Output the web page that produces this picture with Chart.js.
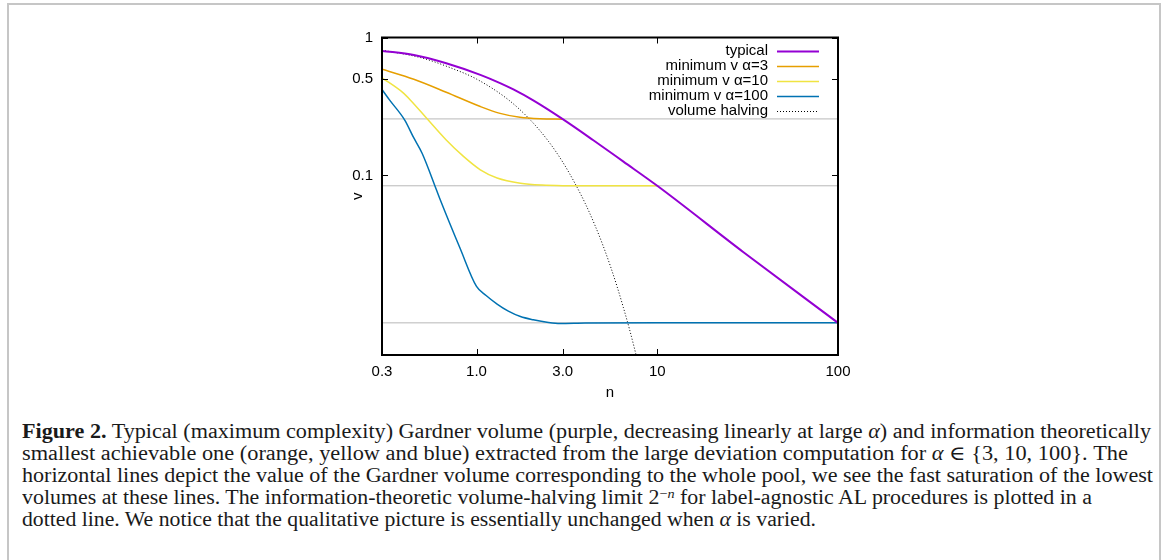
<!DOCTYPE html>
<html>
<head>
<meta charset="utf-8">
<script src="https://cdn.jsdelivr.net/npm/chart.js@4.4.0/dist/chart.umd.min.js"></script>
<style>
  html, body { margin: 0; padding: 0; background: #fff; width: 1170px; height: 560px; overflow: hidden; }
  #frame { position: absolute; left: 7px; top: 3px; width: 1154px; height: 640px; border: 2px solid #c6c6c6; box-sizing: border-box; }
  #plot { position: absolute; left: 0; top: 0; }
  #caption { position: absolute; left: 22px; top: 420px; font-family: "Liberation Serif", "DejaVu Serif", serif; font-size: 20px; line-height: 22px; color: #1a1a1a; }
  #caption div { white-space: nowrap; width: max-content; transform-origin: 0 50%; }
  #caption sup { font-size: 13px; line-height: 0; vertical-align: 0.45em; }
  .m { font-style: italic; }
</style>
</head>
<body>
<div id="frame"></div>
<canvas id="plot" width="1170" height="410"></canvas>
<div id="caption">
  <div><b>Figure 2.</b> Typical (maximum complexity) Gardner volume (purple, decreasing linearly at large <span class="m">α</span>) and information theoretically</div>
  <div>smallest achievable one (orange, yellow and blue) extracted from the large deviation computation for <span class="m">α</span> ∈ {3, 10, 100}. The</div>
  <div>horizontal lines depict the value of the Gardner volume corresponding to the whole pool, we see the fast saturation of the lowest</div>
  <div>volumes at these lines. The information-theoretic volume-halving limit 2<sup>−<span class="m">n</span></sup> for label-agnostic AL procedures is plotted in a</div>
  <div>dotted line. We notice that the qualitative picture is essentially unchanged when <span class="m">α</span> is varied.</div>
</div>
<script>
// axis ticks
const xTicks = [0.3, 1, 3, 10, 100];
const xTickLabels = ['0.3', '1.0', '3.0', '10', '100'];
const yTicks = [1, 0.5, 0.1];
const yTickLabels = ['1', '0.5', '0.1'];

// typical Gardner volume
const nTypical = [0.3, 0.45, 0.68, 1.05, 1.35, 1.6, 2.06, 3.0, 4.43, 6.5, 10, 30, 100];
const vTypical = [0.80, 0.747, 0.651, 0.536, 0.467, 0.420, 0.350, 0.256, 0.180, 0.126, 0.0842, 0.0278, 0.00855];

// minimum v, alpha = 3
const nAlpha3 = [0.3, 0.45, 0.68, 1.05, 1.35, 1.74, 2.24, 3.0];
const vAlpha3 = [0.589, 0.498, 0.401, 0.316, 0.282, 0.264, 0.2575, 0.256];

// minimum v, alpha = 10
const nAlpha10 = [0.3, 0.39, 0.43, 0.53, 0.68, 0.85, 1.05, 1.3, 1.75, 2.3, 3.0, 5, 10];
const vAlpha10 = [0.51, 0.40, 0.353, 0.26, 0.181, 0.137, 0.110, 0.096, 0.088, 0.0852, 0.0844, 0.0842, 0.0842];

// minimum v, alpha = 100
const nAlpha100 = [0.3, 0.33, 0.40, 0.45, 0.5, 0.6, 0.63, 0.81, 1.0, 1.13, 1.3, 1.5, 1.75, 2.06, 2.5, 2.9, 4, 10, 100];
const vAlpha100 = [0.42, 0.353, 0.253, 0.187, 0.145, 0.0788, 0.0667, 0.0298, 0.0157, 0.0135, 0.0117, 0.0104, 0.0095, 0.0090, 0.0086, 0.00845, 0.00852, 0.00855, 0.00855];

// volume halving limit
const nHalving = [0.3, 0.5, 0.75, 1, 1.5, 2, 2.5, 3, 3.5, 4, 4.5, 5, 5.5, 6, 6.5, 7, 7.5, 8];
const vHalving = [0.81, 0.71, 0.59, 0.5, 0.354, 0.25, 0.177, 0.125, 0.088, 0.0625, 0.0442, 0.0313, 0.0221, 0.0156, 0.011, 0.0078, 0.0055, 0.0039];

// whole pool volumes (horizontal lines)
const poolLevels = [0.257, 0.0842, 0.00855];

// right edge of each caption line
const captionRight = [1151, 1128, 1153, 1092, 816];

const pts = (xs, ys) => xs.map((x, i) => ({ x: x, y: ys[i] }));

const curves = [
  { label: 'typical', data: pts(nTypical, vTypical), borderColor: '#9400d3', borderWidth: 2 },
  { label: 'minimum v α=3', data: pts(nAlpha3, vAlpha3), borderColor: '#e69f00', borderWidth: 1.5 },
  { label: 'minimum v α=10', data: pts(nAlpha10, vAlpha10), borderColor: '#f0e442', borderWidth: 1.5 },
  { label: 'minimum v α=100', data: pts(nAlpha100, vAlpha100), borderColor: '#0072b2', borderWidth: 1.5 },
  { label: 'volume halving', data: pts(nHalving, vHalving), borderColor: '#000', borderWidth: 1, borderDash: [1, 2] }
];

const datasets = curves.map(c => Object.assign({
  pointRadius: 0, fill: false, cubicInterpolationMode: 'monotone', legend: true
}, c));

poolLevels.forEach(v => {
  datasets.push({
    label: '', data: [{ x: xTicks[0], y: v }, { x: xTicks[xTicks.length - 1], y: v }],
    borderColor: '#b8b8b8', borderWidth: 1, pointRadius: 0, fill: false
  });
});

const font = { family: '"Liberation Sans", Arial, sans-serif', size: 15 };

// gnuplot-like frame, inward ticks and legend
const framePlugin = {
  id: 'framePlugin',
  afterDatasetsDraw(chart) {
    const ctx = chart.ctx;
    const a = chart.chartArea;
    const xs = chart.scales.x, ys = chart.scales.y;
    ctx.save();
    ctx.strokeStyle = '#000';
    ctx.lineWidth = 1;
    ctx.beginPath();
    xTicks.forEach(v => {
      const px = Math.round(xs.getPixelForValue(v)) + 0.5;
      ctx.moveTo(px, a.bottom); ctx.lineTo(px, a.bottom - 6);
      ctx.moveTo(px, a.top); ctx.lineTo(px, a.top + 6);
    });
    yTicks.forEach(v => {
      const py = Math.round(ys.getPixelForValue(v)) + 0.5;
      ctx.moveTo(a.left, py); ctx.lineTo(a.left + 6, py);
      ctx.moveTo(a.right, py); ctx.lineTo(a.right - 6, py);
    });
    ctx.stroke();
    ctx.lineWidth = 2;
    ctx.strokeRect(a.left, a.top, a.right - a.left, a.bottom - a.top);

    // legend
    ctx.font = font.size + 'px ' + font.family;
    ctx.textAlign = 'right';
    ctx.textBaseline = 'middle';
    ctx.fillStyle = '#000';
    const textRight = a.right - 70;
    chart.data.datasets.filter(d => d.legend).forEach((d, i) => {
      const y = a.top + 13.5 + i * 15;
      ctx.fillText(d.label, textRight, y);
      ctx.beginPath();
      ctx.strokeStyle = d.borderColor;
      ctx.lineWidth = d.borderWidth;
      ctx.setLineDash(d.borderDash || []);
      ctx.moveTo(a.right - 61, y + 0.5);
      ctx.lineTo(a.right - 19, y + 0.5);
      ctx.stroke();
    });
    ctx.restore();
  }
};

new Chart(document.getElementById('plot').getContext('2d'), {
  type: 'line',
  data: { datasets: datasets },
  options: {
    responsive: false,
    animation: false,
    devicePixelRatio: 1,
    layout: { padding: { left: 340, top: 37.5, right: 332, bottom: 0 } },
    plugins: { legend: { display: false }, tooltip: { enabled: false } },
    scales: {
      x: {
        type: 'logarithmic',
        min: 0.3,
        max: 100,
        afterBuildTicks: s => { s.ticks = xTicks.map(v => ({ value: v })); },
        afterFit: s => { s.height = 55; },
        ticks: {
          autoSkip: false, maxRotation: 0, padding: 8, color: '#000', font: font,
          callback: v => xTickLabels[xTicks.indexOf(v)]
        },
        grid: { display: false, drawTicks: false },
        border: { display: false },
        title: { display: true, text: 'n', color: '#000', font: font, padding: { top: 0, bottom: 8 } }
      },
      y: {
        type: 'logarithmic',
        min: 0.005,
        max: 1,
        afterBuildTicks: s => { s.ticks = yTicks.map(v => ({ value: v })); },
        afterFit: s => { s.width = 42; },
        ticks: {
          autoSkip: false, padding: 9, color: '#000', font: font,
          callback: v => yTickLabels[yTicks.indexOf(v)]
        },
        grid: { display: false, drawTicks: false },
        border: { display: false },
        title: { display: true, text: 'v', color: '#000', font: font, padding: { top: 9, bottom: 0 } }
      }
    }
  },
  plugins: [framePlugin]
});

// stretch caption lines to the reference line widths
document.querySelectorAll('#caption div').forEach((line, i) => {
  const w = line.getBoundingClientRect().width;
  const k = (captionRight[i] - 22) / w;
  line.style.transform = 'scaleX(' + k.toFixed(4) + ')';
});
</script>
</body>
</html>
